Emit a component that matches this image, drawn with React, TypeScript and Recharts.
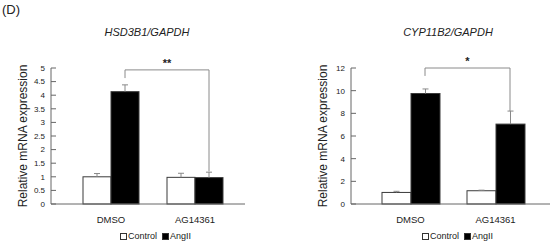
import { BarChart, Bar, XAxis, YAxis, ReferenceLine, Legend } from 'recharts';

const groups = ['DMSO', 'AG14361'];
const seriesNames = ['Control', 'AngII'];
const seriesFills = ['#ffffff', '#000000'];

// HSD3B1/GAPDH
const hsdControl = [1.0, 0.98];
const hsdControlErr = [0.12, 0.15];
const hsdAngII = [4.13, 0.97];
const hsdAngIIErr = [0.25, 0.2];
const hsdTicks = [0, 0.5, 1, 1.5, 2, 2.5, 3, 3.5, 4, 4.5, 5];
// bracket: left leg end, top, right leg end
const hsdBracket = [4.63, 4.93, 1.2];

// CYP11B2/GAPDH
const cypControl = [1.02, 1.17];
const cypControlErr = [0.1, 0.05];
const cypAngII = [9.75, 7.05];
const cypAngIIErr = [0.4, 1.15];
const cypTicks = [0, 2, 4, 6, 8, 10, 12];
const cypBracket = [11.3, 12, 8.2];

const FONT = '"Liberation Sans", Arial, sans-serif';
const AXIS = '#666';

const makeData = (ctl: number[], ctlErr: number[], ang: number[], angErr: number[]) =>
  groups.map((g, i) => ({
    group: g,
    control: ctl[i],
    controlErr: ctlErr[i],
    angII: ang[i],
    angIIErr: angErr[i],
  }));

const hsdData = makeData(hsdControl, hsdControlErr, hsdAngII, hsdAngIIErr);
const cypData = makeData(cypControl, cypControlErr, cypAngII, cypAngIIErr);

// bar + upward-only error bar (Excel "plus" style)
const barWithErr = (key: string, fill: string) => (props: any) => {
  const { x, y, width, height, payload } = props;
  const v = payload[key];
  const errPx = v ? (height / v) * payload[key + 'Err'] : 0;
  const cx = x + width / 2;
  return (
    <g>
      <rect x={x} y={y} width={width} height={height} fill={fill} stroke="#3a3a3a" strokeWidth={1} />
      <line x1={cx} x2={cx} y1={y} y2={y - errPx} stroke="#888" strokeWidth={1} />
      <line x1={cx - 3} x2={cx + 3} y1={y - errPx} y2={y - errPx} stroke="#888" strokeWidth={1} />
    </g>
  );
};

const bracketLine = (dx: number, mark?: string) => (p: any) => (
  <g>
    <line x1={p.x1 + dx} y1={p.y1} x2={p.x2 + dx} y2={p.y2} stroke="#8a8a8a" strokeWidth={1} />
    {mark ? (
      <text
        x={(p.x1 + p.x2) / 2 + dx}
        y={p.y1 - 3}
        textAnchor="middle"
        fontSize={11}
        fontWeight="bold"
        fontFamily={FONT}
        fill="#222"
      >
        {mark}
      </text>
    ) : null}
  </g>
);

const legendContent = () => (
  <div style={{ display: 'flex', alignItems: 'center', fontSize: 9, fontFamily: FONT, color: '#222' }}>
    {seriesNames.map((name, i) => (
      <span key={name} style={{ display: 'flex', alignItems: 'center', marginRight: 5 }}>
        <span
          style={{
            display: 'inline-block',
            width: 5,
            height: 5,
            border: '1px solid #333',
            background: seriesFills[i],
            marginRight: 1,
          }}
        />
        {name}
      </span>
    ))}
  </div>
);

interface PanelProps {
  data: any[];
  ticks: number[];
  max: number;
  bracket: number[];
  mark: string;
  barSize: number;
  marginLeft: number;
  marginRight: number;
  padL: number;
  padR: number;
  legendLeft: number;
}

function Panel(p: PanelProps) {
  return (
    <BarChart
      width={275}
      height={245}
      data={p.data}
      margin={{ top: 68, right: p.marginRight, bottom: 11, left: p.marginLeft }}
      barGap={0}
    >
      <XAxis
        dataKey="group"
        tickLine={false}
        tickSize={0}
        tickMargin={12}
        padding={{ left: p.padL, right: p.padR }}
        axisLine={{ stroke: AXIS }}
        tick={{ fontSize: 9.5, fill: '#222', fontFamily: FONT }}
      />
      <YAxis
        width={45}
        domain={[0, p.max]}
        ticks={p.ticks}
        interval={0}
        tickSize={-5}
        tickMargin={11}
        axisLine={{ stroke: AXIS }}
        tickLine={{ stroke: AXIS }}
        tick={{ fontSize: 8, fill: '#222', fontFamily: FONT }}
        label={{
          value: 'Relative mRNA expression',
          angle: -90,
          position: 'insideLeft',
          offset: 17,
          style: { textAnchor: 'middle', fontSize: 12, fill: '#222', fontFamily: FONT },
        }}
      />
      <Legend
        verticalAlign="middle"
        align="center"
        content={legendContent}
        wrapperStyle={{ top: 231, left: p.legendLeft, width: 'auto' }}
      />
      <Bar
        dataKey="control"
        name={seriesNames[0]}
        fill={seriesFills[0]}
        barSize={p.barSize}
        isAnimationActive={false}
        shape={barWithErr('control', seriesFills[0])}
      />
      <Bar
        dataKey="angII"
        name={seriesNames[1]}
        fill={seriesFills[1]}
        barSize={p.barSize}
        isAnimationActive={false}
        shape={barWithErr('angII', seriesFills[1])}
      />
      <ReferenceLine
        segment={[{ x: groups[0], y: p.bracket[1] }, { x: groups[1], y: p.bracket[1] }]}
        shape={bracketLine(p.barSize / 2, p.mark)}
      />
      <ReferenceLine
        segment={[{ x: groups[0], y: p.bracket[1] }, { x: groups[0], y: p.bracket[0] }]}
        shape={bracketLine(p.barSize / 2)}
      />
      <ReferenceLine
        segment={[{ x: groups[1], y: p.bracket[1] }, { x: groups[1], y: p.bracket[2] }]}
        shape={bracketLine(p.barSize / 2)}
      />
    </BarChart>
  );
}

const titleStyle: any = {
  position: 'absolute',
  top: 26,
  fontSize: 11,
  fontStyle: 'italic',
  fontFamily: FONT,
  color: '#222',
  transform: 'translateX(-50%)',
  whiteSpace: 'nowrap',
  lineHeight: '13px',
};

export default function App() {
  return (
    <div style={{ position: 'absolute', left: 0, top: 0, width: 550, height: 245, background: '#fff', overflow: 'hidden' }}>
      <div style={{ position: 'absolute', left: 2, top: 2, fontSize: 13, fontFamily: FONT, color: '#222', lineHeight: '16px' }}>
        (D)
      </div>
      <div style={{ ...titleStyle, left: 147 }}>HSD3B1/GAPDH</div>
      <div style={{ ...titleStyle, left: 448 }}>CYP11B2/GAPDH</div>
      <div style={{ position: 'absolute', left: 0, top: 0 }}>
        <Panel
          data={hsdData}
          ticks={hsdTicks}
          max={5}
          bracket={hsdBracket}
          mark="**"
          barSize={28}
          marginLeft={6}
          marginRight={30}
          padL={18}
          padR={8}
          legendLeft={120}
        />
      </div>
      <div style={{ position: 'absolute', left: 275, top: 0 }}>
        <Panel
          data={cypData}
          ticks={cypTicks}
          max={12}
          bracket={cypBracket}
          mark="*"
          barSize={29}
          marginLeft={31}
          marginRight={0}
          padL={17}
          padR={12}
          legendLeft={147}
        />
      </div>
    </div>
  );
}
